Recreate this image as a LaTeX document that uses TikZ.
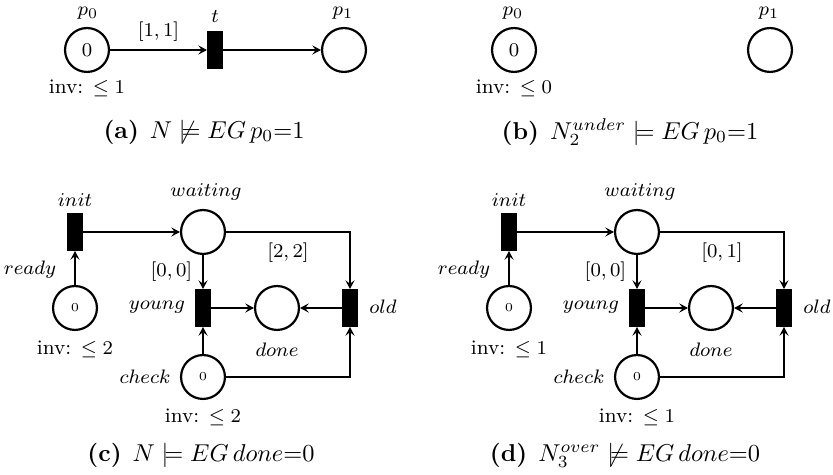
\documentclass[tikz,border=0pt]{standalone}
\usepackage{amssymb}
\usetikzlibrary{arrows.meta}
\begin{document}
\begin{tikzpicture}[x=0.41pt,y=-0.41pt,
  place/.style={circle,draw,line width=0.9pt,minimum size=18pt,inner sep=0pt},
  trans/.style={rectangle,draw,fill=black,thick,minimum width=5.8pt,minimum height=14.8pt,inner sep=0pt},
  lbl/.style={font=\fontsize{8.5}{10}\selectfont,inner sep=0pt},
  tok/.style={font=\fontsize{8.5}{10}\selectfont},
  stok/.style={font=\fontsize{5.5}{6}\selectfont},
  captxt/.style={font=\normalsize,inner sep=0pt},
  arc/.style={line width=0.85pt,-{Stealth[length=3.6pt,width=3.8pt,inset=1.5pt]}},
]
\useasboundingbox (0,0) rectangle (833,475);

% ---------- (a)
\node[place,tok] (pa0) at (87,50) {$0$};
\node[trans] (ta) at (215,50) {};
\node[place] (pa1) at (344,50) {};
\node[lbl] (la0) at (88,13.5) {$p_0$};
\node[lbl] (lat) at (215,17) {$t$};
\node[lbl] (la1) at (343,13.5) {$p_1$};
\node[lbl] (lainv) at (87,88) {inv: $\leq 1$};
\draw[arc] (pa0) -- node[lbl,above=3pt] (ea) {$[1,1]$} (ta);
\draw[arc] (ta) -- (pa1);
\node[captxt] (capa) at (204,132) {\textbf{(a)}\hspace{4.5pt}$N \not\models EG\,p_0{=}1$};

% ---------- (b)
\node[place,tok] (pb0) at (514,50) {$0$};
\node[place] (pb1) at (770,50) {};
\node[lbl] (lb0) at (513,13.5) {$p_0$};
\node[lbl] (lb1) at (769,13.5) {$p_1$};
\node[lbl] (lbinv) at (514,88) {inv: $\leq 0$};
\node[captxt] (capb) at (630,132) {\textbf{(b)}\hspace{4.5pt}$N_2^{under} \models EG\,p_0{=}1$};

% ---------- (c)
\node[trans] (tc) at (75,232) {};
\node[place] (wc) at (203,232) {};
\node[place,stok] (rc) at (75,308) {$0$};
\node[trans] (yc) at (203,308) {};
\node[place] (dc) at (277,308) {};
\node[trans] (oc) at (350,308) {};
\node[place,stok] (cc) at (203,377) {$0$};
\node[lbl] (lci) at (75,200) {$init$};
\node[lbl] (lcw) at (206,192) {$waiting$};
\node[lbl] (lcr) at (30,270) {$ready$};
\node[lbl] (lcrinv) at (75,349) {inv: $\leq 2$};
\node[lbl] (lcy) at (157,307) {$young$};
\node[lbl] (lcd) at (277,350) {$done$};
\node[lbl] (lco) at (383,307) {$old$};
\node[lbl] (lcc) at (145,377) {$check$};
\node[lbl] (lccinv) at (203,417) {inv: $\leq 2$};
\draw[arc] (rc) -- (tc);
\draw[arc] (tc) -- (wc);
\draw[arc] (wc) -- node[lbl,left=4pt] (ec1) {$[0,0]$} (yc);
\draw[arc] (wc) -| node[lbl,pos=0.25,below=4pt] (ec2) {$[2,2]$} (oc);
\draw[arc] (yc) -- (dc);
\draw[arc] (oc) -- (dc);
\draw[arc] (cc) -- (yc);
\draw[arc] (cc) -| (oc);
\node[captxt] (capc) at (201,455) {\textbf{(c)}\hspace{4.5pt}$N \models EG\,done{=}0$};

% ---------- (d)
\node[trans] (td) at (509,232) {};
\node[place] (wd) at (637,232) {};
\node[place,stok] (rd) at (509,308) {$0$};
\node[trans] (yd) at (637,308) {};
\node[place] (dd) at (711,308) {};
\node[trans] (od) at (784,308) {};
\node[place,stok] (cd) at (637,377) {$0$};
\node[lbl] (ldi) at (509,200) {$init$};
\node[lbl] (ldw) at (640,192) {$waiting$};
\node[lbl] (ldr) at (464,270) {$ready$};
\node[lbl] (ldrinv) at (509,349) {inv: $\leq 1$};
\node[lbl] (ldy) at (591,307) {$young$};
\node[lbl] (ldd) at (711,350) {$done$};
\node[lbl] (ldo) at (817,307) {$old$};
\node[lbl] (ldc) at (579,377) {$check$};
\node[lbl] (ldcinv) at (637,417) {inv: $\leq 1$};
\draw[arc] (rd) -- (td);
\draw[arc] (td) -- (wd);
\draw[arc] (wd) -- node[lbl,left=4pt] (ed1) {$[0,0]$} (yd);
\draw[arc] (wd) -| node[lbl,pos=0.25,below=4pt] (ed2) {$[0,1]$} (od);
\draw[arc] (yd) -- (dd);
\draw[arc] (od) -- (dd);
\draw[arc] (cd) -- (yd);
\draw[arc] (cd) -| (od);
\node[captxt] (capd) at (625,455) {\textbf{(d)}\hspace{4.5pt}$N_3^{over} \not\models EG\,done{=}0$};
\end{tikzpicture}
\end{document}
